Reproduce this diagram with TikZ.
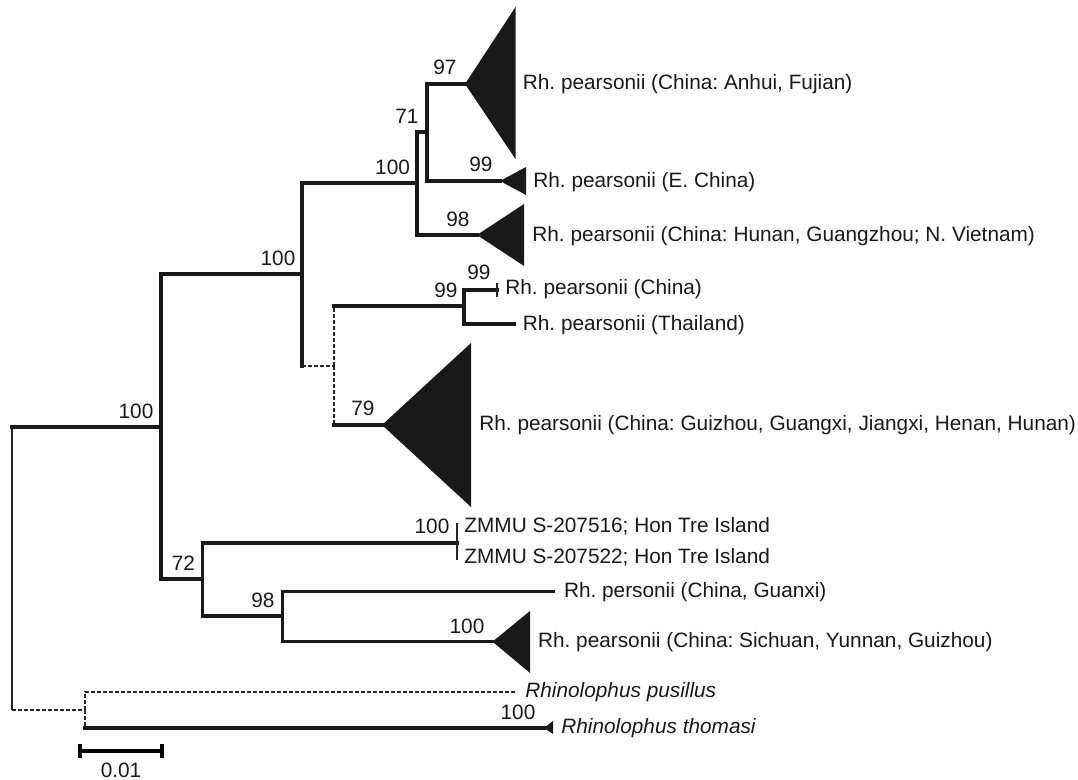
\documentclass[tikz,border=0pt]{standalone}
\usepackage{fontspec}
\setmainfont{Liberation Sans}
\usetikzlibrary{positioning,calc}
\frenchspacing

\begin{document}
\begin{tikzpicture}[
  x=0.5pt, y=-0.5pt,
  br/.style={line width=1.75pt, line cap=rect, black!90},
  thn/.style={line width=0.6pt, black!85},
  dsh/.style={line width=0.6pt, black!85, dash pattern=on 2pt off 1pt},
  boot/.style={font=\fontsize{10.4}{12}\selectfont, anchor=base, inner sep=0pt, text=black!90},
  tip/.style={font=\fontsize{10.4}{12}\selectfont, anchor=base west, inner sep=0pt, text=black!90},
]
\useasboundingbox (0,0) rectangle (1078,780);

% tree nodes
\coordinate (root) at (12,568);
\coordinate (n1)   at (161,427);
\coordinate (n2)   at (302,274);
\coordinate (n3)   at (417,183);
\coordinate (n4)   at (427,132);
\coordinate (n5)   at (334,366);
\coordinate (n6)   at (464,306);
\coordinate (n7)   at (202.5,579);
\coordinate (n8)   at (282.5,616);
\coordinate (og)   at (85,710);

% tips (apex of collapsed clades)
\coordinate (anhui)  at (465,84);
\coordinate (echina) at (500,181);
\coordinate (hunan)  at (477,235);
\coordinate (china)  at (497,290);
\coordinate (thai)   at (514,324);
\coordinate (guiz)   at (382,425);
\coordinate (zmmu)   at (457,543);
\coordinate (guanxi) at (553.7,591.7);
\coordinate (sich)   at (492.5,641.7);
\coordinate (pus)    at (517,692);
\coordinate (thom)   at (544,728);

% branches
\draw[thn] (root) -- (root |- n1);
\draw[br]  (root |- n1) -- (n1);
\draw[thn] (root) -- (root |- og);
\draw[dsh] (root |- og) -- (og);

\foreach \a/\b in {n1/n2,n1/n7,n2/n3,n3/n4,n3/hunan,n4/anhui,n4/echina,
                   n6/china,n6/thai,n7/zmmu,n7/n8,n8/guanxi,n8/sich}{
  \draw[br] (\a) |- (\b);
}
\draw[br]  (n2) -- (n2 |- n5);
\draw[dsh] (n2 |- n5) -- (n5);
\draw[dsh] (n5) -- (n5 |- n6);
\draw[br]  (n5 |- n6) -- (n6);
\draw[dsh] (n5) -- (n5 |- guiz);
\draw[br]  (n5 |- guiz) -- (guiz);
\draw[dsh] (og) |- (pus);
\draw[dsh] (og) -- (og |- thom);
\draw[br]  (og |- thom) -- (thom);

% short tip ticks
\draw[thn] ($(china)+(0,-7)$) -- ($(china)+(0,7)$);
\draw[thn] ($(zmmu)+(0,-20)$) -- ($(zmmu)+(0,17)$);

% collapsed clades
\foreach \a/\bx/\ty/\by in {anhui/515.5/7/159, echina/526/167/195,
                             hunan/524/204/266, guiz/471/343/507,
                             sich/530/611/673, thom/553/721/734}{
  \fill[black!90] (\a) -- (\bx,\ty) -- (\bx,\by) -- cycle;
}

% support values
\node[boot] (b1)  at (445,74.5)   {97};
\node[boot] (b2)  at (407,123.5)  {71};
\node[boot] (b3)  at (392.6,174.5){100};
\node[boot] (b4)  at (481,171.5)  {99};
\node[boot] (b5)  at (458,226.5)  {98};
\node[boot] (b6)  at (278,265.5)  {100};
\node[boot] (b7)  at (479,279.5)  {99};
\node[boot] (b8)  at (446,297.5)  {99};
\node[boot] (b9)  at (363,415.5)  {79};
\node[boot] (b10) at (136,418.5)  {100};
\node[boot] (b11) at (183.5,570.5){72};
\node[boot] (b12) at (263,607.5)  {98};
\node[boot] (b13) at (432,533.5)  {100};
\node[boot] (b14) at (467,633.5)  {100};
\node[boot] (b15) at (518,719.5)  {100};

% tip labels
\node[tip] (lanhui)  at (522.5,89.5) {Rh. pearsonii (China: Anhui, Fujian)};
\node[tip] (lechina) at (533,188)    {Rh. pearsonii (E. China)};
\node[tip] (lhunan)  at (532,242)    {Rh. pearsonii (China: Hunan, Guangzhou; N. Vietnam)};
\node[tip] (lchina)  at (505,295)    {Rh. pearsonii (China)};
\node[tip] (lthai)   at (522.5,331)  {Rh. pearsonii (Thailand)};
\node[tip] (lguiz)   at (479,430.5)  {Rh. pearsonii (China: Guizhou, Guangxi, Jiangxi, Henan, Hunan)};
\node[tip] (lzmmua)  at (464,532.5)  {ZMMU S-207516; Hon Tre Island};
\node[tip] (lzmmub)  at (464,564)    {ZMMU S-207522; Hon Tre Island};
\node[tip] (lguanxi) at (563.6,598)  {Rh. personii (China, Guanxi)};
\node[tip] (lsich)   at (537.7,647.5){Rh. pearsonii (China: Sichuan, Yunnan, Guizhou)};
\node[tip] (lpus)    at (525,698)    {\itshape Rhinolophus pusillus};
\node[tip] (lthom)   at (561,734)    {\itshape Rhinolophus thomasi};

% scale bar
\coordinate (sa) at (80,751);
\coordinate (sb) at (162,751);
\draw[line width=1.8pt] (sa) -- (sb);
\draw[line width=1.8pt] ($(sa)+(0,-7)$) -- ($(sa)+(0,7)$);
\draw[line width=1.8pt] ($(sb)+(0,-7)$) -- ($(sb)+(0,7)$);
\node[boot] (scale) at (121,777.5) {0.01};
\end{tikzpicture}
\end{document}
